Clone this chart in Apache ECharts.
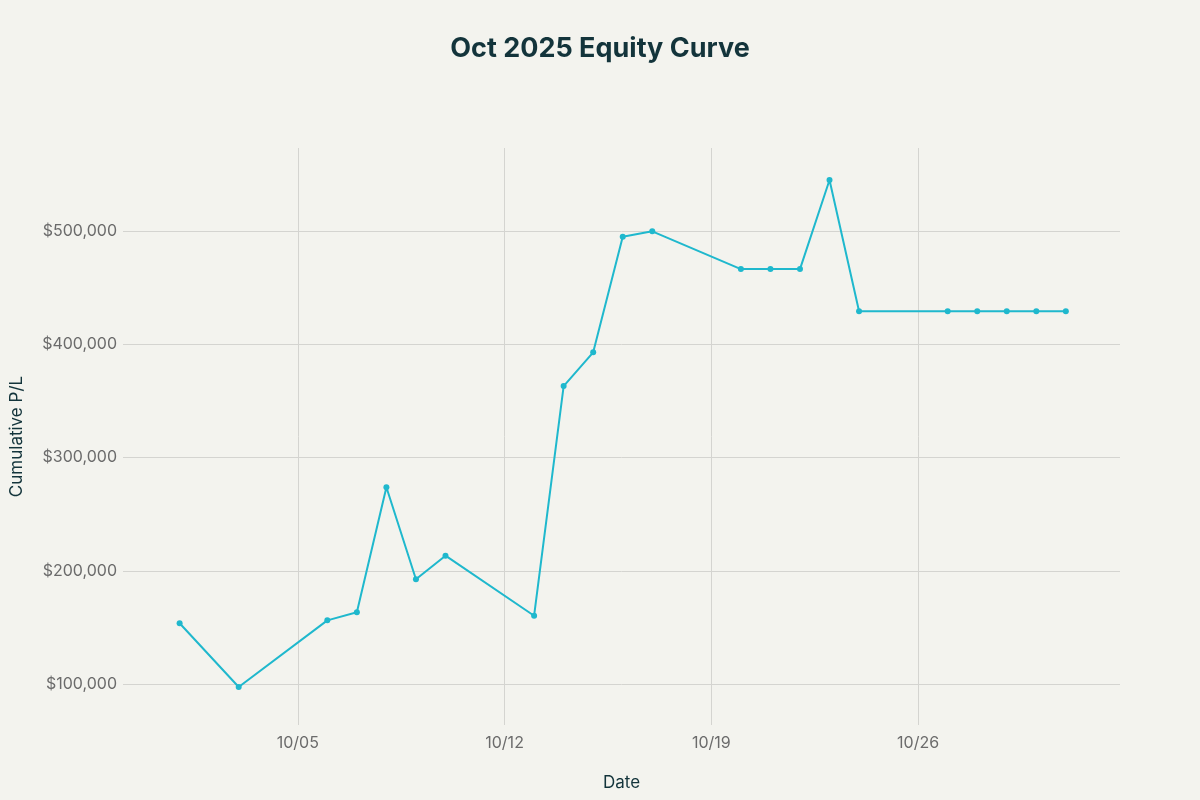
<!DOCTYPE html>
<html>
<head>
<meta charset="utf-8">
<script src="https://cdn.jsdelivr.net/npm/echarts@6/dist/echarts.min.js"></script>
<style>
html,body{margin:0;padding:0;background:#F3F3EE;}
#chart{width:1200px;height:800px;}
</style>
</head>
<body>
<div id="chart"></div>
<script>
const dates = ['2025-10-01','2025-10-03','2025-10-06','2025-10-07','2025-10-08','2025-10-09','2025-10-10',
  '2025-10-13','2025-10-14','2025-10-15','2025-10-16','2025-10-17','2025-10-20','2025-10-21','2025-10-22',
  '2025-10-23','2025-10-24','2025-10-27','2025-10-28','2025-10-29','2025-10-30','2025-10-31'];
const cumulativePL = [153600, 97400, 156200, 163300, 273700, 192500, 213300,
  160300, 363100, 392900, 495000, 499700, 466400, 466400, 466400,
  545000, 429100, 429100, 429100, 429100, 429100, 429100];
const yTicks = [100000, 200000, 300000, 400000, 500000];
const xTickDates = ['2025-10-05','2025-10-12','2025-10-19','2025-10-26'];

function parseLocal(s, h) {
  const p = s.split('-').map(Number);
  return new Date(p[0], p[1]-1, p[2], h || 0, 0, 0).getTime();
}
const xTicks = xTickDates.map(d => parseLocal(d));
const seriesData = dates.map((d, i) => [parseLocal(d), cumulativePL[i]]);

const chart = echarts.init(document.getElementById('chart'));
const fontFamily = 'Inter, "Noto Sans", sans-serif';
chart.setOption({
  animation: false,
  backgroundColor: '#F3F3EE',
  textStyle: { fontFamily },
  title: {
    text: 'Oct 2025 Equity Curve',
    left: 'center',
    top: 30,
    textStyle: { fontFamily, fontSize: 27, fontWeight: 'bold', color: '#13343B' }
  },
  grid: { left: 123, right: 80, top: 148, bottom: 75, containLabel: false, outerBoundsMode: 'none' },
  xAxis: {
    type: 'value',
    min: parseLocal('2025-09-29', 2),
    max: parseLocal('2025-11-01', 20),
    name: 'Date',
    nameLocation: 'middle',
    nameGap: 49,
    nameTextStyle: { fontFamily, fontSize: 17, color: '#13343B' },
    axisLine: { show: false },
    axisTick: { show: false, customValues: xTicks },
    axisLabel: {
      customValues: xTicks,
      color: '#6B6B6B',
      fontSize: 16,
      margin: 10,
      formatter: v => {
        const d = new Date(v);
        return String(d.getMonth()+1).padStart(2,'0') + '/' + String(d.getDate()).padStart(2,'0');
      }
    },
    splitLine: { show: true, lineStyle: { color: '#D4D4D0', width: 1 } }
  },
  yAxis: {
    type: 'value',
    min: 63800,
    max: 573300,
    name: 'Cumulative P/L',
    nameLocation: 'middle',
    nameGap: 98,
    nameTextStyle: { fontFamily, fontSize: 17, color: '#13343B' },
    axisLine: { show: false },
    axisTick: { show: false, customValues: yTicks },
    axisLabel: {
      customValues: yTicks,
      color: '#6B6B6B',
      fontSize: 16,
      margin: 6,
      formatter: v => '$' + v.toLocaleString('en-US')
    },
    splitLine: { show: true, lineStyle: { color: '#D4D4D0', width: 1 } }
  },
  series: [{
    type: 'line',
    data: seriesData,
    symbol: 'circle',
    symbolSize: 6,
    showAllSymbol: true,
    lineStyle: { color: '#1FB8CD', width: 2 },
    itemStyle: { color: '#1FB8CD' }
  }]
});
</script>
</body>
</html>
